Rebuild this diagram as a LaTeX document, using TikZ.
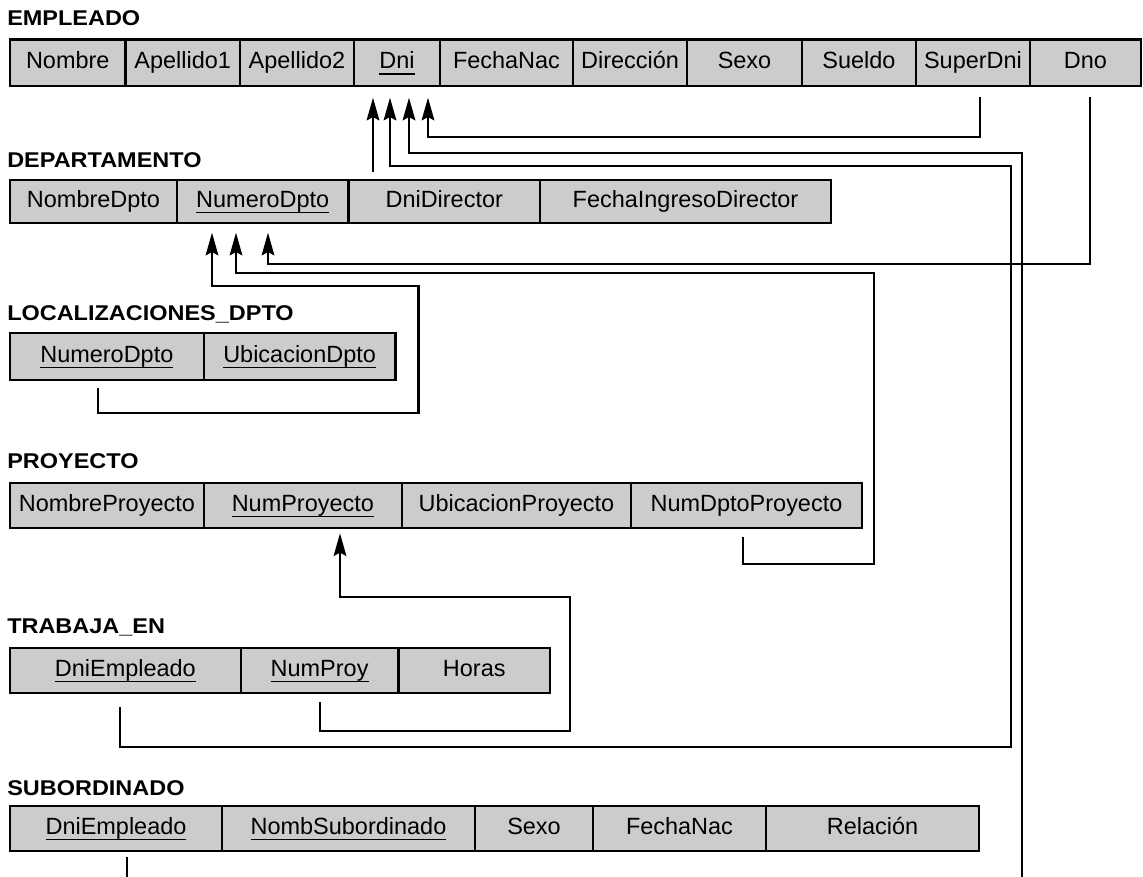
\documentclass[tikz,border=0pt]{standalone}
\usepackage{fontspec}
\setmainfont{Liberation Sans}
\newfontfamily\titlefont{Liberation Sans}[FakeStretch=1.1]
\usetikzlibrary{positioning,calc,arrows.meta}
\definecolor{cellgray}{RGB}{204,204,204}
% clave primaria subrayada
\newcommand{\pk}[1]{\setbox0\hbox{#1}\rlap{\rule[-4.6pt]{\wd0}{1.2pt}}\box0}

\begin{document}
\begin{tikzpicture}[x=0.75pt,y=-0.75pt,
  cell/.style={draw,line width=1.8pt,fill=cellgray,inner sep=0pt,outer sep=0pt,
    minimum width=#1*0.75pt,text height=12.6pt,text depth=4.05pt,
    font=\fontsize{17.6pt}{20pt}\selectfont},
  titulo/.style={anchor=base west,inner sep=0pt,
    font=\titlefont\bfseries\fontsize{16pt}{18pt}\selectfont},
  fk/.style={line width=1.6pt,-{Stealth[length=17pt,width=9.5pt,inset=2.5pt]}},
  linea/.style={line width=1.6pt}]

\useasboundingbox (0,0) rectangle (1143,876);

%---------------------------
% EMPLEADO
%---------------------------
\node[titulo] (tit-emp) at (7,25) {EMPLEADO};
\begin{scope}[every node/.append style={minimum height=46.5*0.75pt}]
\node[cell=115.5,anchor=north west] (ep-nombre) at (10,39.5) {Nombre};
\node[cell=114.5,right=0pt of ep-nombre] (ep-ap1) {Apellido1};
\node[cell=114,right=0pt of ep-ap1] (ep-ap2) {Apellido2};
\node[cell=86,right=0pt of ep-ap2] (ep-dni) {\pk{Dni}};
\node[cell=133,right=0pt of ep-dni] (ep-fnac) {FechaNac};
\node[cell=114,right=0pt of ep-fnac] (ep-dir) {Dirección};
\node[cell=115,right=0pt of ep-dir] (ep-sexo) {Sexo};
\node[cell=114,right=0pt of ep-sexo] (ep-sueldo) {Sueldo};
\node[cell=114,right=0pt of ep-sueldo] (ep-superdni) {SuperDni};
\node[cell=111,right=0pt of ep-superdni] (ep-dno) {Dno};
\end{scope}

%---------------------------
% DEPARTAMENTO
%---------------------------
\node[titulo] (tit-dep) at (7,167) {DEPARTAMENTO};
\begin{scope}[every node/.append style={minimum height=43*0.75pt}]
\node[cell=167,anchor=north west] (dp-nombre) at (10,180) {NombreDpto};
\node[cell=171.5,right=0pt of dp-nombre] (dp-numdpto) {\pk{NumeroDpto}};
\node[cell=191.5,right=0pt of dp-numdpto] (dp-dnidir) {DniDirector};
\node[cell=291,right=0pt of dp-dnidir] (dp-fecha) {FechaIngresoDirector};
\end{scope}

%---------------------------
% LOCALIZACIONES_DPTO
%---------------------------
\node[titulo] (tit-loc) at (7,320) {LOCALIZACIONES\_DPTO};
\begin{scope}[every node/.append style={minimum height=47*0.75pt}]
\node[cell=193.7,anchor=north west] (lc-numdpto) at (10,333) {\pk{NumeroDpto}};
\node[cell=191.8,right=0pt of lc-numdpto] (lc-ubic) {\pk{UbicacionDpto}};
\end{scope}

%---------------------------
% PROYECTO
%---------------------------
\node[titulo] (tit-proy) at (7,468) {PROYECTO};
\begin{scope}[every node/.append style={minimum height=45*0.75pt}]
\node[cell=193.7,anchor=north west] (py-nombre) at (10,483) {NombreProyecto};
\node[cell=198.3,right=0pt of py-nombre] (py-numproy) {\pk{NumProyecto}};
\node[cell=229,right=0pt of py-numproy] (py-ubic) {UbicacionProyecto};
\node[cell=231,right=0pt of py-ubic] (py-numdpto) {NumDptoProyecto};
\end{scope}

%---------------------------
% TRABAJA_EN
%---------------------------
\node[titulo] (tit-trab) at (7,633) {TRABAJA\_EN};
\begin{scope}[every node/.append style={minimum height=45*0.75pt}]
\node[cell=230.7,anchor=north west] (te-dni) at (10,648) {\pk{DniEmpleado}};
\node[cell=157.8,right=0pt of te-dni] (te-numproy) {\pk{NumProy}};
\node[cell=151.5,right=0pt of te-numproy] (te-horas) {Horas};
\end{scope}

%---------------------------
% SUBORDINADO
%---------------------------
\node[titulo] (tit-sub) at (7,795) {SUBORDINADO};
\begin{scope}[every node/.append style={minimum height=45*0.75pt}]
\node[cell=212,anchor=north west] (sb-dni) at (10,806) {\pk{DniEmpleado}};
\node[cell=253,right=0pt of sb-dni] (sb-nomb) {\pk{NombSubordinado}};
\node[cell=118,right=0pt of sb-nomb] (sb-sexo) {Sexo};
\node[cell=173,right=0pt of sb-sexo] (sb-fnac) {FechaNac};
\node[cell=213,right=0pt of sb-fnac] (sb-rel) {Relación};
\end{scope}

%---------------------------
% extremos de las claves externas
%---------------------------
\coordinate (t-dni1) at ($(ep-dni.south)+(-24,11.7)$);
\coordinate (t-dni2) at ($(ep-dni.south)+(-7,11.7)$);
\coordinate (t-dni3) at ($(ep-dni.south)+(12,11.7)$);
\coordinate (t-dni4) at ($(ep-dni.south)+(31,11.7)$);
\coordinate (t-ndp1) at ($(dp-numdpto.south)+(-50.75,9.7)$);
\coordinate (t-ndp2) at ($(dp-numdpto.south)+(-26.75,9.7)$);
\coordinate (t-ndp3) at ($(dp-numdpto.south)+(5.25,9.7)$);
\coordinate (t-npy) at ($(py-numproy.south)+(37.15,5.3)$);

\coordinate (s-superdni) at ($(ep-superdni.south)+(7,11)$);
\coordinate (s-dno) at ($(ep-dno.south)+(4.5,11)$);
\coordinate (s-dnidir) at ($(dp-dnidir.north)+(-71.25,-8.3)$);
\coordinate (s-lcdp) at ($(lc-numdpto.south)+(-8.85,8)$);
\coordinate (s-pydp) at ($(py-numdpto.south)+(-3.5,9)$);
\coordinate (s-tedni) at ($(te-dni.south)+(-5.35,14)$);
\coordinate (s-tenp) at ($(te-numproy.south)+(0.4,9)$);
\coordinate (s-sbdni) at ($(sb-dni.south)+(11,6)$);
\coordinate (s-subfar) at (1022,885);

%---------------------------
% referencias
%---------------------------
\draw[fk] (s-dnidir) -- (t-dni1);
\draw[fk] (s-superdni) -- ++(0,40.3) -| (t-dni4);
\draw[fk] (s-tedni) -- ++(0,40) -| (1010.6,166) -| (t-dni2);
\draw[fk] (s-subfar) |- ($(t-dni3)+(0,55.6)$) -- (t-dni3);
\draw[linea] (s-sbdni) -- ++(0,30);
\draw[fk] (s-dno) -- ++(0,167.3) -| (t-ndp3);
\draw[fk] (s-pydp) -- ++(0,27) -| (874,273.3) -| (t-ndp2);
\draw[fk] (s-lcdp) -- ++(0,24.7) -| (418.5,286) -| (t-ndp1);
\draw[fk] (s-tenp) -- ++(0,29) -| (570,597) -| (t-npy);

\end{tikzpicture}
\end{document}
